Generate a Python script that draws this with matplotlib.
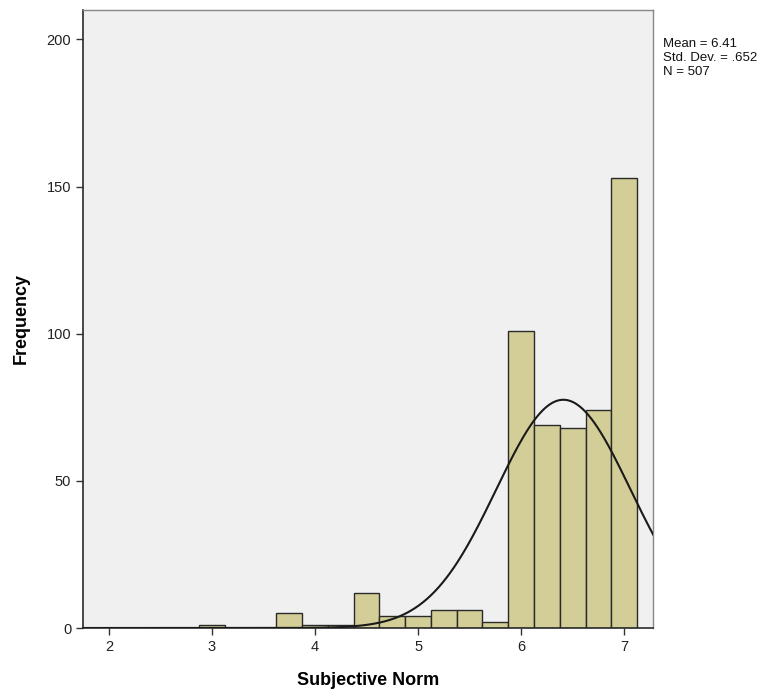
import numpy as np
import matplotlib
matplotlib.use("Agg")
import matplotlib.pyplot as plt

plt.rcParams['font.family'] = ['Liberation Sans', 'DejaVu Sans']

bin_centers = [3.0, 3.75, 4.0, 4.25, 4.5, 4.75, 5.0, 5.25, 5.5, 5.75, 6.0, 6.25, 6.5, 6.75, 7.0]
counts = [1, 5, 1, 1, 12, 4, 4, 6, 6, 2, 101, 69, 68, 74, 153]
bin_width = 0.25
mean_val = 6.41
std_val = 0.652
n_val = 507
x_ticks = [2, 3, 4, 5, 6, 7]
y_ticks = [0, 50, 100, 150, 200]

fig = plt.figure(figsize=(7.76, 6.97), dpi=100)
ax = fig.add_axes([83/776, 69/697, (653-83)/776, (628-10)/697])
ax.set_facecolor('#F0F0F0')

ax.bar(bin_centers, counts, width=bin_width, color='#D3CE97', edgecolor='#2a2a2a', linewidth=1.0, zorder=2)

xs = np.linspace(1.7, 7.35, 600)
pdf = n_val * bin_width / (std_val * np.sqrt(2 * np.pi)) * np.exp(-0.5 * ((xs - mean_val) / std_val) ** 2)
ax.plot(xs, pdf, color='#1a1a1a', linewidth=1.5, zorder=3)

ax.set_xlim(1.748, 7.28)
ax.set_ylim(0, 210)
ax.set_xticks(x_ticks)
ax.set_yticks(y_ticks)
ax.tick_params(axis='both', direction='out', length=5, width=1, colors='#333333', labelsize=10.5, labelcolor='#222222')

for s in ['left', 'bottom']:
    ax.spines[s].set_color('#2a2a2a')
    ax.spines[s].set_linewidth(1.2)
for s in ['top', 'right']:
    ax.spines[s].set_color('#888888')
    ax.spines[s].set_linewidth(1.0)

ax.set_ylabel('Frequency', fontsize=13, fontweight='bold', labelpad=12)
ax.set_xlabel('Subjective Norm', fontsize=13, fontweight='bold', labelpad=13)

fig.text(663/776, 1 - 38/697,
         f'Mean = {mean_val}\nStd. Dev. = .652\nN = {n_val}',
         fontsize=9.5, va='top', ha='left', color='#111111', linespacing=1.2)

fig.savefig('out.png', dpi=100, facecolor='white')
